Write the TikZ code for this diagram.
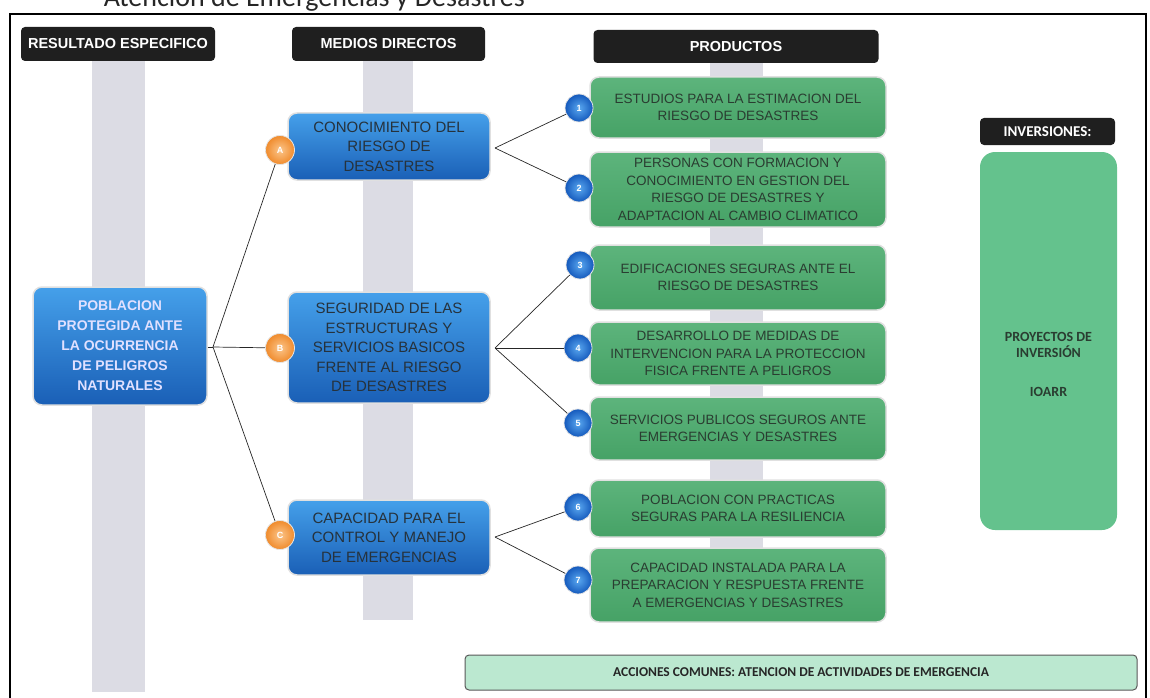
\documentclass[tikz,border=0pt]{standalone}
\usepackage{fontspec}
\setmainfont{Liberation Sans}
\newfontfamily\calib{Carlito}
\definecolor{bandgray}{HTML}{DCDCE4}
\definecolor{bluetop}{HTML}{45A0EA}
\definecolor{bluebot}{HTML}{1A5FB6}
\definecolor{greentop}{HTML}{5DB47C}
\definecolor{greenmid}{HTML}{7DCB98}
\definecolor{greenbot}{HTML}{46A266}
\definecolor{invgreen}{HTML}{64C28D}
\definecolor{accgreen}{HTML}{BBE8D0}
\definecolor{darktxt}{HTML}{26323C}
\definecolor{gtxt}{HTML}{2A3D31}
\definecolor{orangein}{HTML}{FBC58A}
\definecolor{orangeout}{HTML}{F08B2C}
\definecolor{bluein}{HTML}{5AA8F0}
\definecolor{blueout}{HTML}{1459BC}
\begin{document}
\begin{tikzpicture}[x=1pt,y=-1pt,
  hdr/.style={fill=black!88, rounded corners=4pt, text=white, inner sep=0pt,
    font=\bfseries\fontsize{14.5}{16}\selectfont},
  band/.style={fill=bandgray, draw=none},
  bluebox/.style={rounded corners=9pt, top color=bluetop, bottom color=bluebot,
    draw=white!88!black, line width=1.5pt, align=center, inner sep=0pt},
  greenbox/.style={rounded corners=9pt, top color=greentop, middle color=greenmid, bottom color=greenbot,
    draw=white!88!black, line width=1.5pt, align=center, inner sep=0pt, text=gtxt,
    font=\fontsize{13.5}{17.5}\selectfont, minimum width=296pt},
  obal/.style={circle, inner color=orangein, outer color=orangeout, draw=white!90!black, line width=0.8pt,
    inner sep=0pt, minimum size=29pt, text=white, font=\bfseries\fontsize{9}{9}\selectfont},
  bbal/.style={circle, inner color=bluein, outer color=blueout, draw=white!90!black, line width=0.8pt,
    inner sep=0pt, minimum size=28pt, text=white, font=\bfseries\fontsize{9}{9}\selectfont},
  link/.style={draw=black!85, line width=0.7pt}
]
\useasboundingbox (0,0) rectangle (1150,698);
% title (cut off at top) and frame
\node[anchor=base east, inner sep=0pt, text=black!85, font=\calib\fontsize{28}{28}\selectfont] (title) at (525,7) {Atención de Emergencias y Desastres};
\draw[line width=1.6pt, black] (10,730) -- (10,14) -- (1146,14) -- (1146,730);
% background bands
\fill[band] (92,61) rectangle (145,692);
\fill[band] (363,61) rectangle (413,620);
\fill[band] (710,63) rectangle (763,623);
% headers
\node[hdr, minimum width=194pt, minimum height=34pt] (h1) at (118,44) {RESULTADO ESPECIFICO};
\node[hdr, minimum width=193pt, minimum height=34pt] (h2) at (388.5,44) {MEDIOS DIRECTOS};
\node[hdr, minimum width=285pt, minimum height=33pt] (h3) at (736,46.5) {PRODUCTOS};
\node[hdr, minimum width=135pt, minimum height=27pt, font=\calib\bfseries\fontsize{15}{16}\selectfont] (h4) at (1047.5,131.5) {INVERSIONES:};
% main result
\node[bluebox, minimum width=174pt, minimum height=118pt, text=white!88!blue,
  font=\bfseries\fontsize{14}{20}\selectfont] (P) at (120,346)
  {POBLACION\\PROTEGIDA ANTE\\LA OCURRENCIA\\DE PELIGROS\\NATURALES};
% medios directos
\node[bluebox, minimum width=202pt, minimum height=67pt, text=darktxt,
  font=\fontsize{15}{19.5}\selectfont] (A) at (389,146.5)
  {CONOCIMIENTO DEL\\RIESGO DE\\DESASTRES};
\node[bluebox, minimum width=202pt, minimum height=111pt, text=darktxt,
  font=\fontsize{15}{19.5}\selectfont] (B) at (389,347.5)
  {SEGURIDAD DE LAS\\ESTRUCTURAS Y\\SERVICIOS BASICOS\\FRENTE AL RIESGO\\DE DESASTRES};
\node[bluebox, minimum width=202pt, minimum height=75pt, text=darktxt,
  font=\fontsize{15}{19.5}\selectfont] (C) at (389,537.5)
  {CAPACIDAD PARA EL\\CONTROL Y MANEJO\\DE EMERGENCIAS};
\node[obal] (cA) at (280,150) {A};
\node[obal] (cB) at (280,348) {B};
\node[obal] (cC) at (280,535) {C};
% productos
\node[greenbox, minimum height=61pt] (p1) at (738,107.5) {ESTUDIOS PARA LA ESTIMACION DEL\\RIESGO DE DESASTRES};
\node[greenbox, minimum height=75pt] (p2) at (738,189.5) {PERSONAS CON FORMACION Y\\CONOCIMIENTO EN GESTION DEL\\RIESGO DE DESASTRES Y\\ADAPTACION AL CAMBIO CLIMATICO};
\node[greenbox, minimum height=65pt] (p3) at (738,277.5) {EDIFICACIONES SEGURAS ANTE EL\\RIESGO DE DESASTRES};
\node[greenbox, minimum height=63pt] (p4) at (738,353.5) {DESARROLLO DE MEDIDAS DE\\INTERVENCION PARA LA PROTECCION\\FISICA FRENTE A PELIGROS};
\node[greenbox, minimum height=63pt] (p5) at (738,428.5) {SERVICIOS PUBLICOS SEGUROS ANTE\\EMERGENCIAS Y DESASTRES};
\node[greenbox, minimum height=57pt] (p6) at (738,508.5) {POBLACION CON PRACTICAS\\SEGURAS PARA LA RESILIENCIA};
\node[greenbox, minimum height=74pt] (p7) at (738,585) {CAPACIDAD INSTALADA PARA LA\\PREPARACION Y RESPUESTA FRENTE\\A EMERGENCIAS Y DESASTRES};
\node[bbal] (n1) at (579,108) {1};
\node[bbal] (n2) at (579,188) {2};
\node[bbal] (n3) at (580,265) {3};
\node[bbal] (n4) at (578,348) {4};
\node[bbal] (n5) at (578,423) {5};
\node[bbal] (n6) at (578,507) {6};
\node[bbal] (n7) at (578,580) {7};
% junctions
\coordinate (jP) at (213,347);
\coordinate (jA) at (495,148);
\coordinate (jB) at (495,348);
\coordinate (jC) at (495,537);
\draw[link] (P.east |- jP) -- (jP);
\draw[link] (jP) -- (cA);
\draw[link] (jP) -- (cB);
\draw[link] (jP) -- (cC);
\draw[link] (jA) -- (n1);
\draw[link] (jA) -- (n2);
\draw[link] (jB) -- (n3);
\draw[link] (jB) -- (n4);
\draw[link] (jB) -- (n5);
\draw[link] (jC) -- (n6);
\draw[link] (jC) -- (n7);
% inversiones
\node[rounded corners=15pt, fill=invgreen, minimum width=137pt, minimum height=378pt, inner sep=0pt] (I) at (1048.5,341) {};
\node[align=center, text=gtxt, font=\calib\bfseries\fontsize{14}{16}\selectfont, inner sep=0pt] (It) at (1048.5,345) {PROYECTOS DE\\INVERSIÓN};
\node[text=gtxt, font=\calib\bfseries\fontsize{14}{16}\selectfont, inner sep=0pt] (Io) at (1048.5,392) {IOARR};
% acciones comunes
\node[rounded corners=4pt, fill=accgreen, draw=black!65, line width=1pt, minimum width=672pt, minimum height=35pt,
  text=black!85, font=\calib\bfseries\fontsize{13.5}{15}\selectfont] (acc) at (801,672.5)
  {ACCIONES COMUNES: ATENCION DE ACTIVIDADES DE EMERGENCIA};
\end{tikzpicture}
\end{document}
